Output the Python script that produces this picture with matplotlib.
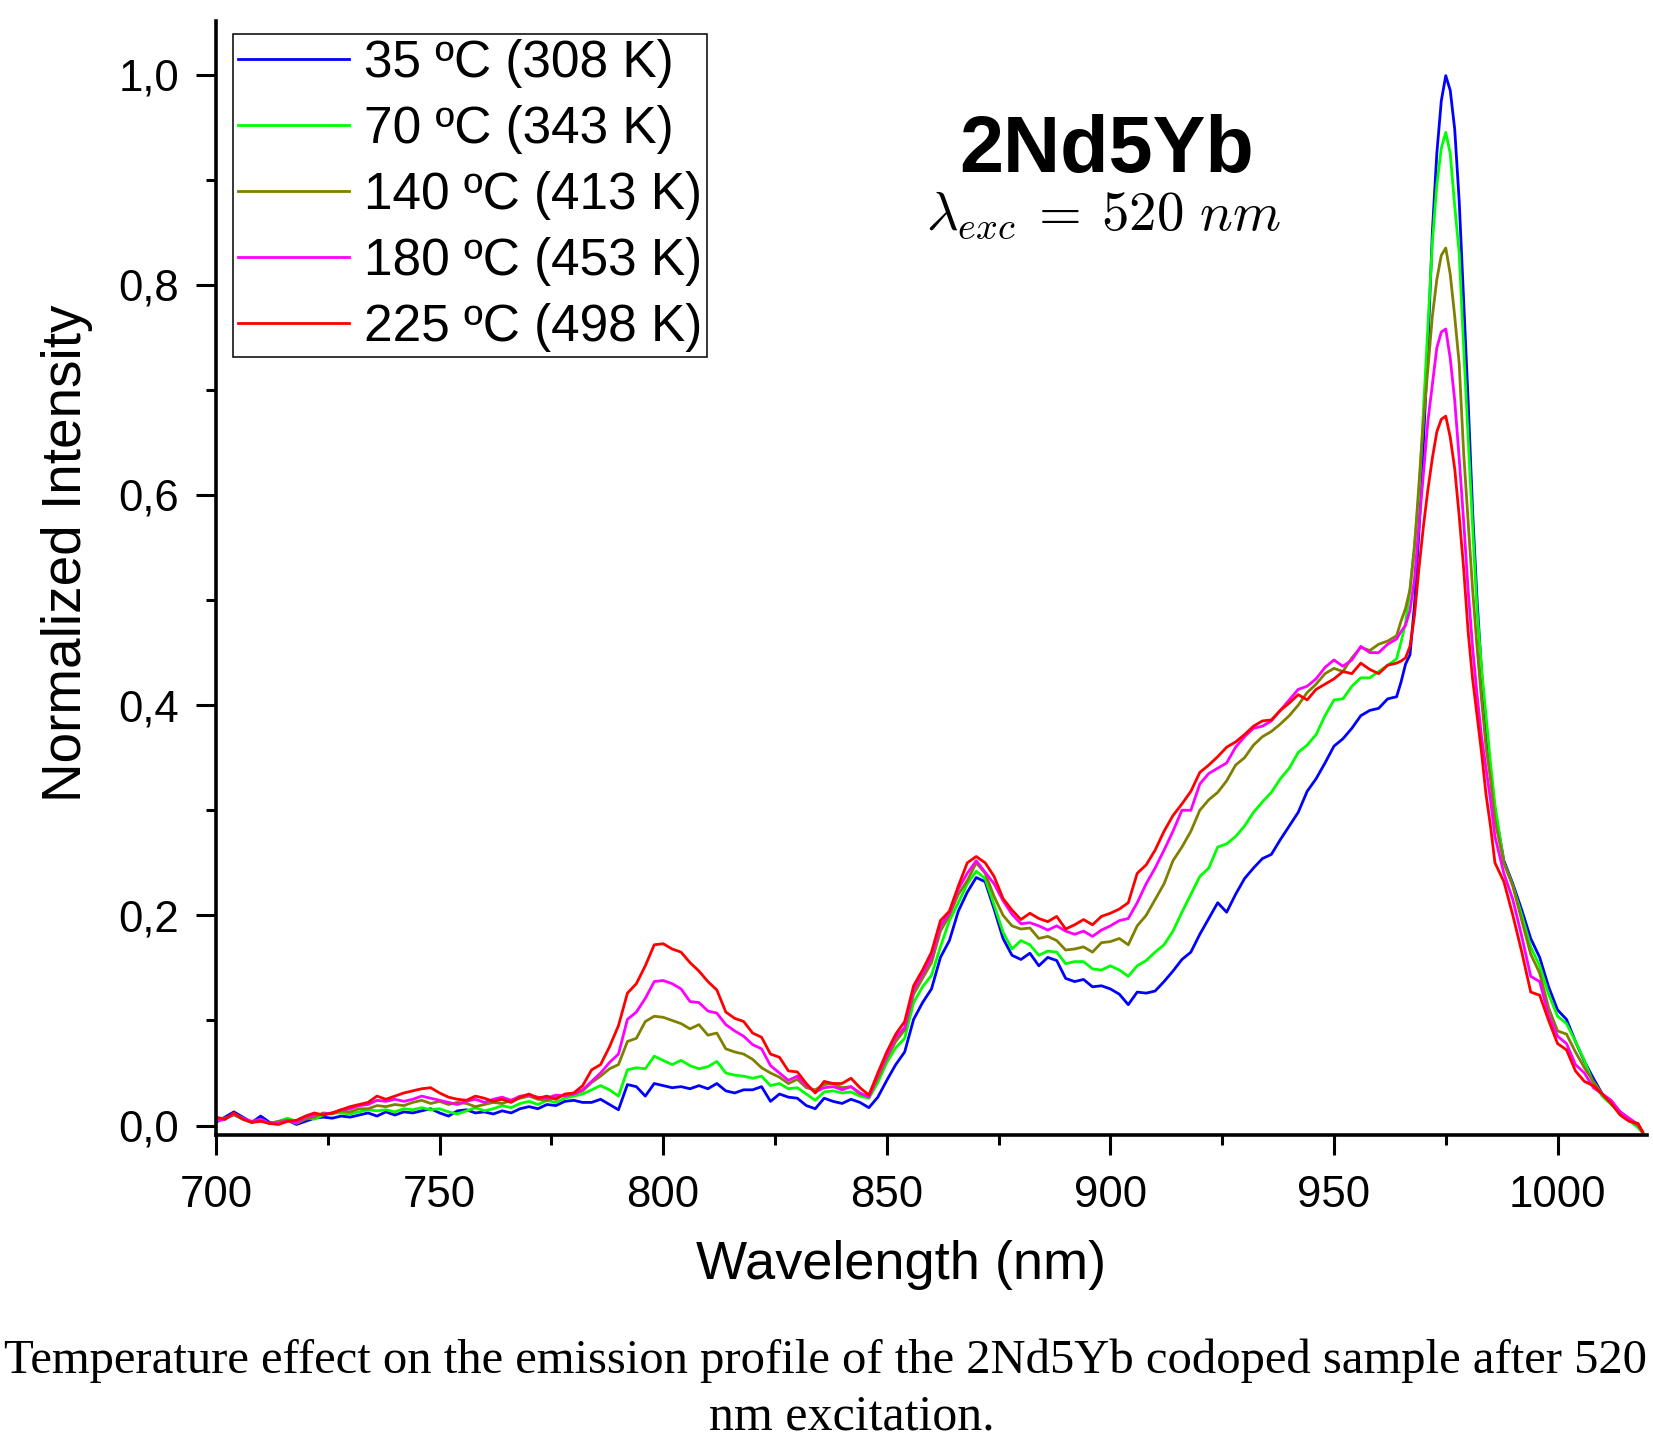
import matplotlib
matplotlib.use("Agg")
import matplotlib.pyplot as plt
import numpy as np
from matplotlib.ticker import MultipleLocator

plt.rcParams["font.family"] = ["Liberation Sans", "DejaVu Sans"]
plt.rcParams["mathtext.fontset"] = "cm"

# sampling grid (nm): 2 nm steps, 1 nm around the Yb peak
wavelength = np.concatenate([
    np.arange(700, 965, 2), np.arange(965, 986, 1), np.arange(986, 1019, 2), [1019]
])

labels = ["35 ºC (308 K)", "70 ºC (343 K)", "140 ºC (413 K)", "180 ºC (453 K)", "225 ºC (498 K)"]
colors = ["#0000ff", "#00ff00", "#808000", "#ff00ff", "#ff0000"]

blue_35 = [
    0.003, 0.008, 0.013, 0.008, 0.003, 0.009, 0.003, 0.002, 0.005, 0.001,
    0.004, 0.007, 0.008, 0.007, 0.009, 0.008, 0.010, 0.012, 0.009, 0.013,
    0.010, 0.013, 0.012, 0.014, 0.016, 0.012, 0.009, 0.014, 0.015, 0.012,
    0.013, 0.011, 0.014, 0.012, 0.016, 0.018, 0.016, 0.020, 0.019, 0.023,
    0.024, 0.022, 0.022, 0.025, 0.020, 0.015, 0.039, 0.037, 0.028, 0.040,
    0.038, 0.036, 0.037, 0.035, 0.038, 0.035, 0.040, 0.033, 0.031, 0.034,
    0.034, 0.037, 0.023, 0.030, 0.027, 0.026, 0.019, 0.016, 0.026, 0.023,
    0.021, 0.025, 0.022, 0.017, 0.027, 0.043, 0.058, 0.070, 0.101, 0.117,
    0.130, 0.160, 0.176, 0.204, 0.222, 0.236, 0.232, 0.206, 0.178, 0.162,
    0.158, 0.164, 0.152, 0.160, 0.157, 0.140, 0.137, 0.139, 0.132, 0.133,
    0.130, 0.125, 0.115, 0.127, 0.126, 0.128, 0.137, 0.147, 0.158, 0.165,
    0.182, 0.197, 0.212, 0.203, 0.220, 0.235, 0.245, 0.254, 0.258, 0.272,
    0.285, 0.298, 0.318, 0.330, 0.345, 0.361, 0.368, 0.378, 0.390, 0.395,
    0.397, 0.406, 0.408,
    0.422, 0.439, 0.448, 0.495, 0.565, 0.650, 0.740, 0.850, 0.925, 0.975,
    0.999, 0.985, 0.948, 0.880, 0.785, 0.690, 0.585, 0.500, 0.432, 0.375, 0.335,
    0.300, 0.252, 0.230, 0.205, 0.178, 0.160, 0.132, 0.110, 0.101, 0.080,
    0.061, 0.045, 0.030, 0.022, 0.013, 0.006, 0.000, -0.006,
]

green_70 = [
    0.005, 0.006, 0.011, 0.007, 0.003, 0.006, 0.002, 0.004, 0.007, 0.004,
    0.008, 0.006, 0.010, 0.012, 0.012, 0.011, 0.013, 0.015, 0.014, 0.015,
    0.013, 0.016, 0.015, 0.017, 0.015, 0.016, 0.013, 0.011, 0.014, 0.017,
    0.014, 0.016, 0.019, 0.017, 0.021, 0.023, 0.020, 0.024, 0.022, 0.026,
    0.028, 0.030, 0.034, 0.038, 0.034, 0.028, 0.053, 0.055, 0.054, 0.066,
    0.062, 0.058, 0.062, 0.057, 0.054, 0.056, 0.061, 0.050, 0.048, 0.047,
    0.045, 0.047, 0.038, 0.040, 0.035, 0.036, 0.030, 0.024, 0.032, 0.033,
    0.031, 0.032, 0.028, 0.026, 0.041, 0.060, 0.074, 0.083, 0.117, 0.132,
    0.143, 0.170, 0.195, 0.212, 0.230, 0.242, 0.235, 0.210, 0.184, 0.168,
    0.176, 0.172, 0.162, 0.166, 0.165, 0.154, 0.156, 0.156, 0.149, 0.148,
    0.152, 0.148, 0.142, 0.152, 0.157, 0.165, 0.172, 0.185, 0.203, 0.220,
    0.237, 0.245, 0.265, 0.268, 0.275, 0.285, 0.298, 0.308, 0.317, 0.330,
    0.340, 0.355, 0.362, 0.372, 0.390, 0.405, 0.406, 0.418, 0.426, 0.426,
    0.432, 0.438, 0.444,
    0.460, 0.478, 0.510, 0.552, 0.600, 0.680, 0.760, 0.840, 0.895, 0.930,
    0.945, 0.925, 0.875, 0.830, 0.740, 0.655, 0.570, 0.490, 0.435, 0.390, 0.345,
    0.305, 0.250, 0.228, 0.200, 0.170, 0.152, 0.125, 0.104, 0.097, 0.080,
    0.062, 0.040, 0.028, 0.020, 0.012, 0.005, -0.002, -0.007,
]

olive_140 = [
    0.006, 0.007, 0.010, 0.006, 0.003, 0.005, 0.002, 0.004, 0.005, 0.002,
    0.006, 0.008, 0.012, 0.011, 0.014, 0.013, 0.016, 0.016, 0.019, 0.018,
    0.020, 0.019, 0.022, 0.024, 0.021, 0.023, 0.020, 0.022, 0.021, 0.018,
    0.020, 0.022, 0.021, 0.024, 0.026, 0.028, 0.025, 0.024, 0.027, 0.029,
    0.030, 0.033, 0.041, 0.047, 0.054, 0.058, 0.080, 0.083, 0.099, 0.104,
    0.103, 0.100, 0.097, 0.092, 0.096, 0.086, 0.088, 0.073, 0.070, 0.068,
    0.063, 0.055, 0.050, 0.046, 0.040, 0.044, 0.036, 0.034, 0.039, 0.040,
    0.036, 0.037, 0.030, 0.028, 0.045, 0.064, 0.080, 0.091, 0.125, 0.140,
    0.155, 0.185, 0.200, 0.220, 0.233, 0.250, 0.240, 0.218, 0.200, 0.190,
    0.187, 0.188, 0.178, 0.180, 0.176, 0.167, 0.168, 0.170, 0.165, 0.174,
    0.175, 0.178, 0.172, 0.190, 0.200, 0.215, 0.230, 0.252, 0.265, 0.280,
    0.300, 0.310, 0.317, 0.328, 0.343, 0.350, 0.362, 0.370, 0.375, 0.382,
    0.390, 0.400, 0.412, 0.420, 0.430, 0.435, 0.432, 0.445, 0.455, 0.452,
    0.458, 0.461, 0.466,
    0.480, 0.492, 0.510, 0.550, 0.610, 0.670, 0.720, 0.770, 0.805, 0.828,
    0.835, 0.810, 0.770, 0.725, 0.640, 0.575, 0.510, 0.455, 0.405, 0.360, 0.330,
    0.290, 0.250, 0.228, 0.195, 0.163, 0.145, 0.112, 0.090, 0.087, 0.070,
    0.055, 0.042, 0.030, 0.021, 0.012, 0.005, 0.000, -0.006,
]

magenta_180 = [
    0.004, 0.006, 0.011, 0.007, 0.004, 0.006, 0.002, 0.002, 0.005, 0.003,
    0.008, 0.010, 0.011, 0.012, 0.015, 0.016, 0.019, 0.020, 0.024, 0.023,
    0.025, 0.023, 0.025, 0.028, 0.026, 0.024, 0.022, 0.020, 0.023, 0.025,
    0.022, 0.025, 0.027, 0.024, 0.028, 0.029, 0.027, 0.026, 0.029, 0.028,
    0.030, 0.034, 0.042, 0.050, 0.060, 0.068, 0.101, 0.108, 0.121, 0.137,
    0.138, 0.135, 0.130, 0.118, 0.117, 0.109, 0.107, 0.096, 0.090, 0.085,
    0.077, 0.073, 0.057, 0.050, 0.043, 0.047, 0.038, 0.032, 0.036, 0.037,
    0.034, 0.037, 0.031, 0.027, 0.048, 0.066, 0.084, 0.093, 0.129, 0.144,
    0.160, 0.190, 0.202, 0.225, 0.240, 0.252, 0.241, 0.230, 0.214, 0.201,
    0.192, 0.193, 0.190, 0.186, 0.190, 0.185, 0.182, 0.185, 0.180, 0.186,
    0.190, 0.195, 0.197, 0.212, 0.230, 0.245, 0.262, 0.280, 0.300, 0.300,
    0.325, 0.335, 0.340, 0.345, 0.360, 0.370, 0.378, 0.380, 0.385, 0.395,
    0.405, 0.415, 0.418, 0.425, 0.436, 0.443, 0.437, 0.443, 0.456, 0.450,
    0.450, 0.458, 0.463,
    0.470, 0.476, 0.490, 0.520, 0.570, 0.620, 0.670, 0.705, 0.740, 0.755,
    0.758, 0.730, 0.690, 0.635, 0.575, 0.510, 0.455, 0.410, 0.370, 0.340, 0.310,
    0.275, 0.240, 0.215, 0.180, 0.142, 0.137, 0.105, 0.085, 0.078, 0.058,
    0.050, 0.036, 0.030, 0.024, 0.013, 0.007, 0.001, -0.006,
]

red_225 = [
    0.008, 0.006, 0.012, 0.006, 0.003, 0.004, 0.002, 0.001, 0.004, 0.005,
    0.009, 0.012, 0.010, 0.012, 0.015, 0.018, 0.020, 0.022, 0.028, 0.025,
    0.028, 0.031, 0.033, 0.035, 0.036, 0.031, 0.027, 0.025, 0.024, 0.028,
    0.026, 0.023, 0.025, 0.022, 0.027, 0.030, 0.026, 0.028, 0.025, 0.030,
    0.031, 0.038, 0.053, 0.058, 0.075, 0.095, 0.126, 0.135, 0.152, 0.172,
    0.173, 0.168, 0.165, 0.155, 0.147, 0.137, 0.129, 0.108, 0.102, 0.099,
    0.088, 0.084, 0.068, 0.065, 0.052, 0.051, 0.040, 0.031, 0.042, 0.040,
    0.040, 0.045, 0.036, 0.029, 0.050, 0.070, 0.087, 0.099, 0.133, 0.148,
    0.165, 0.195, 0.204, 0.228, 0.250, 0.256, 0.250, 0.237, 0.216, 0.205,
    0.196, 0.202, 0.197, 0.194, 0.199, 0.187, 0.191, 0.196, 0.191, 0.199,
    0.202, 0.206, 0.212, 0.240, 0.248, 0.262, 0.280, 0.295, 0.306, 0.318,
    0.336, 0.343, 0.351, 0.360, 0.365, 0.372, 0.380, 0.385, 0.386, 0.395,
    0.402, 0.410, 0.405, 0.415, 0.420, 0.425, 0.432, 0.430, 0.440, 0.434,
    0.430, 0.438, 0.440,
    0.442, 0.445, 0.456, 0.485, 0.530, 0.570, 0.605, 0.635, 0.660, 0.672,
    0.675, 0.655, 0.625, 0.580, 0.530, 0.470, 0.425, 0.390, 0.355, 0.315, 0.285,
    0.250, 0.232, 0.200, 0.165, 0.127, 0.124, 0.100, 0.078, 0.072, 0.052,
    0.042, 0.038, 0.030, 0.021, 0.010, 0.004, 0.002, -0.006,
]

series = [blue_35, green_70, olive_140, magenta_180, red_225]

x_ticks = [700, 750, 800, 850, 900, 950, 1000]
y_ticks = [0.0, 0.2, 0.4, 0.6, 0.8, 1.0]
y_tick_labels = ["0,0", "0,2", "0,4", "0,6", "0,8", "1,0"]

W, H = 1653, 1438
fig = plt.figure(figsize=(W / 100, H / 100), dpi=100)
ax = fig.add_axes([216 / W, 1 - 1135 / H, (1647 - 216) / W, (1135 - 21) / H])

for values, label, color in zip(series, labels, colors):
    ax.plot(wavelength, values, color=color, lw=2.0, label=label)

ax.set_xlim(700, 1020)
ax.set_ylim(-0.009, 1.051)
ax.set_xticks(x_ticks)
ax.set_xticklabels([str(t) for t in x_ticks])
ax.set_yticks(y_ticks)
ax.set_yticklabels(y_tick_labels)
ax.xaxis.set_minor_locator(MultipleLocator(25))
ax.yaxis.set_minor_locator(MultipleLocator(0.1))
ax.tick_params(which="major", direction="out", length=14.5, width=2.2, labelsize=31.5)
ax.tick_params(axis="x", which="major", pad=14)
ax.tick_params(axis="y", which="major", pad=12)
ax.tick_params(which="minor", direction="out", length=7, width=2.2)
for side in ("top", "right"):
    ax.spines[side].set_visible(False)
for side in ("left", "bottom"):
    ax.spines[side].set_linewidth(2.6)

leg = ax.legend(loc="upper left", bbox_to_anchor=(233 / W, 1 - 34 / H),
                bbox_transform=fig.transFigure, borderaxespad=0, fontsize=37,
                fancybox=False, edgecolor="black", framealpha=1, borderpad=0.1,
                labelspacing=0.33, handlelength=2.15, handletextpad=0.3)
leg.get_frame().set_linewidth(1.1)

fig.text(1107 / W, 1 - 172 / H, "2Nd5Yb", fontsize=57, fontweight="bold",
         ha="center", va="baseline")
fig.text(1104 / W, 1 - 230 / H, r"$\lambda_{exc}\:=\:520\ nm$", fontsize=39.5,
         ha="center", va="baseline")
fig.text(901 / W, 1 - 1279 / H, "Wavelength (nm)", fontsize=39,
         ha="center", va="baseline")
fig.text(81 / W, 1 - 553 / H, "Normalized Intensity", fontsize=39.5, rotation=90,
         rotation_mode="anchor", ha="center", va="baseline")

fig.text(826 / W, 1 - 1373 / H,
         "Temperature effect on the emission profile of the 2Nd5Yb codoped sample after 520",
         fontsize=35, family="Liberation Serif", ha="center", va="baseline")
fig.text(852 / W, 1 - 1430 / H, "nm excitation.", fontsize=36,
         family="Liberation Serif", ha="center", va="baseline")

fig.savefig("out.png", dpi=100)
